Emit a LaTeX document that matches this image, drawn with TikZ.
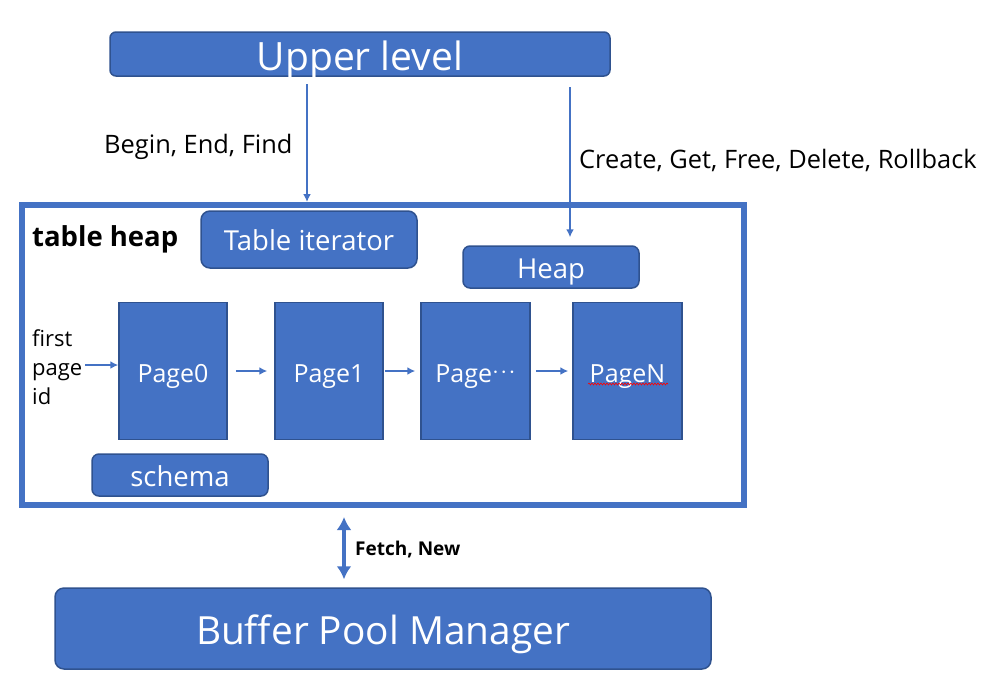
\documentclass[tikz,border=0pt]{standalone}
\usepackage{fontspec}
\setmainfont{Open Sans}
\usetikzlibrary{arrows.meta,decorations.pathmorphing}
\definecolor{blu}{HTML}{4472C4}
\definecolor{bluedge}{HTML}{2F528F}
\tikzset{
  bbox/.style={draw=bluedge,fill=blu,line width=1.5pt,text=white,inner sep=0pt,rounded corners=7pt,align=center,text depth=0pt},
  pagebox/.style={draw=bluedge,fill=blu,line width=1.5pt,text=white,inner sep=0pt,minimum width=108pt,minimum height=137pt,font=\fontsize{25}{28}\selectfont,text height=22pt,text depth=0pt},
  conn/.style={draw=blu,line width=2.7pt,-{Latex[length=8pt,width=8pt]}},
  lbl/.style={inner sep=0pt,anchor=west,text=black},
}
\begin{document}
\begin{tikzpicture}[x=1pt,y=-1pt]
\useasboundingbox (0,0) rectangle (985,689);
% boxes
\node[bbox,minimum width=500pt,minimum height=44pt,rounded corners=6pt,font=\fontsize{39}{44}\selectfont,text height=32pt] (upper) at (360,54) {Upper level};
\node[draw=blu,line width=6pt,minimum width=722pt,minimum height=300pt,inner sep=0pt] (tabheap) at (383,355) {};
\node[bbox,minimum width=216pt,minimum height=57pt,rounded corners=9pt,font=\fontsize{27.5}{30}\selectfont,text height=22.5pt] (iter) at (309,239.5) {Table iterator};
\node[bbox,minimum width=176pt,minimum height=42pt,font=\fontsize{27.5}{30}\selectfont,text height=22.5pt] (heapbox) at (551,267) {Heap};
\node[pagebox] (page0) at (173,371) {Page0};
\node[pagebox] (page1) at (329,371) {Page1};
\node[pagebox,minimum width=109pt] (pagedots) at (475.5,371) {Page\raisebox{0.25ex}{$\cdot\!\cdot\!\cdot$}};
\node[pagebox,minimum width=109pt] (pageN) at (627.5,371) {PageN};
\node[bbox,minimum width=176pt,minimum height=42pt,font=\fontsize{27.5}{30}\selectfont,text height=22pt] (schema) at (180,475) {schema};
\node[bbox,minimum width=656pt,minimum height=81pt,rounded corners=9pt,font=\fontsize{38.8}{44}\selectfont,text height=31pt] (bpm) at (383,628.5) {Buffer Pool Manager};
% labels
\node[lbl,font=\fontsize{25.4}{28}\selectfont] (lbegin) at (104,147) {Begin, End, Find};
\node[lbl,font=\fontsize{25.4}{28}\selectfont] (lcreate) at (579,160) {Create, Get, Free, Delete, Rollback};
\node[lbl,font=\bfseries\fontsize{27.5}{30}\selectfont] (lth) at (32,239) {table heap};
\node[lbl,align=left,font=\fontsize{22}{29}\selectfont] (lfirst) at (32,367) {first\\page\\id};
\node[lbl,font=\bfseries\fontsize{19}{22}\selectfont] (lfetch) at (355,549) {Fetch, New};
% connectors
\coordinate (a1s) at (307,84);
\coordinate (a2s) at (570,87);
\coordinate (fp) at (85,365);
\coordinate (fa) at (344,500);
\draw[conn] (a1s) -- (a1s |- tabheap.north);
\draw[conn,shorten >=8pt] (a2s) -- (a2s |- heapbox.north);
\draw[conn] (fp) -- (fp -| page0.west);
\draw[conn,shorten <=8pt,shorten >=7pt] (page0.east) -- (page1.west);
\draw[conn,shorten <=1pt,shorten >=5pt] (page1.east) -- (pagedots.west);
\draw[conn,shorten <=5pt,shorten >=4pt] (pagedots.east) -- (pageN.west);
\draw[draw=blu,fill=blu,line width=4.5pt,{Latex[length=13pt,width=15pt]}-{Latex[length=13pt,width=15pt]},shorten <=9pt,shorten >=8pt] (fa |- tabheap.south) -- (fa |- bpm.north);
% spell-check squiggle
\draw[red,line width=0.6pt,decorate,decoration={snake,amplitude=1pt,segment length=3pt}] (588,384) -- (668,384);
\end{tikzpicture}
\end{document}
